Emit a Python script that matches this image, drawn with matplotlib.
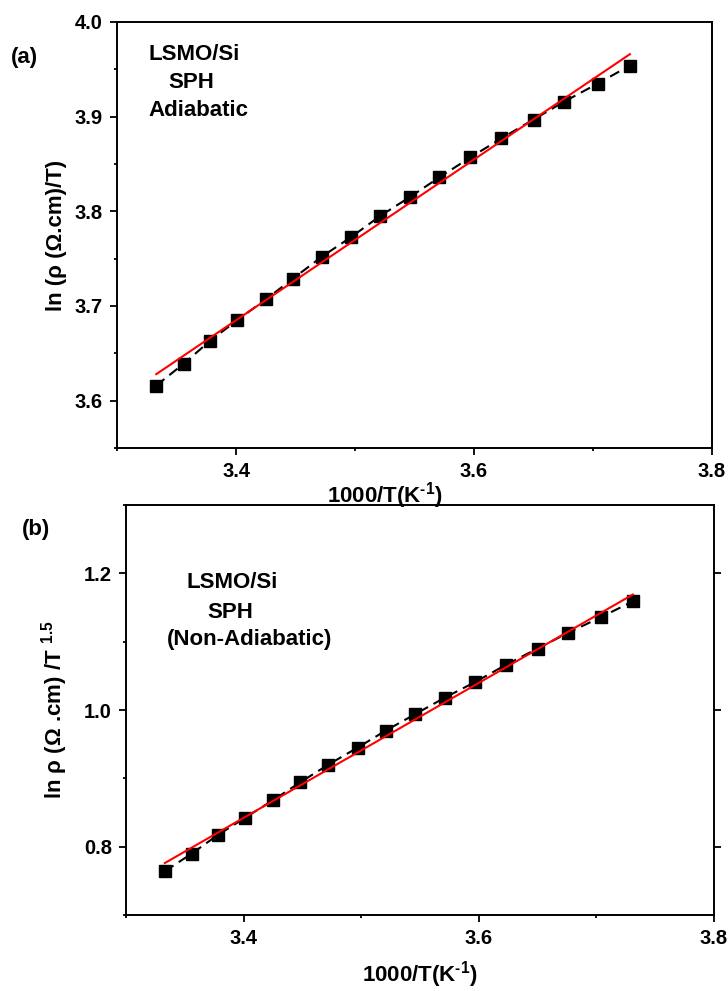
import matplotlib
matplotlib.use("Agg")
import matplotlib.pyplot as plt
from matplotlib.ticker import MultipleLocator

plt.rcParams['font.family'] = ['Liberation Sans', 'DejaVu Sans']
plt.rcParams['font.weight'] = 'bold'
plt.rcParams['mathtext.fontset'] = 'custom'
plt.rcParams['mathtext.rm'] = 'Liberation Sans:bold'
plt.rcParams['mathtext.bf'] = 'Liberation Sans:bold'
plt.rcParams['mathtext.default'] = 'bf'

# 1000/T (K^-1), T = 300 K down to 268 K
inv_t = [3.333, 3.356, 3.378, 3.401, 3.425, 3.448, 3.472, 3.497, 3.521,
         3.546, 3.571, 3.597, 3.623, 3.650, 3.676, 3.704, 3.731]

# adiabatic SPH: ln(rho/T)
ln_rho_t = [3.616, 3.639, 3.663, 3.685, 3.707, 3.729, 3.752, 3.773, 3.795,
            3.815, 3.836, 3.857, 3.877, 3.897, 3.916, 3.935, 3.954]
fit_a_x = [3.333, 3.731]
fit_a_y = [3.628, 3.966]

# non-adiabatic SPH: ln(rho/T^1.5)
ln_rho_t15 = [0.764, 0.790, 0.817, 0.842, 0.868, 0.894, 0.920, 0.945, 0.970,
              0.994, 1.018, 1.041, 1.066, 1.090, 1.113, 1.136, 1.159]
fit_b_x = [3.333, 3.731]
fit_b_y = [0.776, 1.169]

W, H = 728, 991
fig = plt.figure(figsize=(W / 100, H / 100), dpi=100)


def px_box(left, top, right, bottom):
    return [left / W, 1 - bottom / H, (right - left) / W, (bottom - top) / H]


def style_axes(ax, right_ticks=False):
    for sp in ax.spines.values():
        sp.set_linewidth(1.4)
    ax.tick_params(which='both', direction='out', width=1.3, labelsize=14.5,
                   top=False, right=False)
    ax.tick_params(which='major', length=5, pad=5)
    ax.tick_params(which='minor', length=2.5)
    if right_ticks:
        ax.tick_params(which='major', right=True)
    ax.xaxis.set_major_locator(MultipleLocator(0.2))
    ax.xaxis.set_minor_locator(MultipleLocator(0.1))
    for lab in ax.get_xticklabels() + ax.get_yticklabels():
        lab.set_fontweight('bold')


def draw(ax, y, fx, fy):
    ax.plot(inv_t, y, color='black', ls='--', dashes=(5, 3), lw=1.5,
            marker='s', ms=8.5, zorder=2)
    ax.plot(fx, fy, color='red', lw=1.5, zorder=3)


xlabel = r'1000/T(K$^{\text{-1}}$)'

# (a) adiabatic
ax1 = fig.add_axes(px_box(117, 22, 712, 448))
draw(ax1, ln_rho_t, fit_a_x, fit_a_y)
ax1.set_xlim(3.3, 3.8)
ax1.set_ylim(3.55, 4.0)
ax1.yaxis.set_major_locator(MultipleLocator(0.1))
ax1.yaxis.set_minor_locator(MultipleLocator(0.05))
style_axes(ax1)
ax1.set_ylabel('ln (ρ (Ω.cm)/T)', fontsize=16, fontweight='bold', labelpad=6)
fig.text(148 / W, 1 - 54 / H, 'LSMO/Si', fontsize=16, fontweight='bold', va='center')
fig.text(168 / W, 1 - 83 / H, 'SPH', fontsize=16, fontweight='bold', va='center')
fig.text(148 / W, 1 - 110 / H, 'Adiabatic', fontsize=16, fontweight='bold', va='center')
fig.text(11 / W, 1 - 57 / H, '(a)', fontsize=16, fontweight='bold', va='center')

# (b) non-adiabatic
ax2 = fig.add_axes(px_box(126, 505, 714, 915))
draw(ax2, ln_rho_t15, fit_b_x, fit_b_y)
ax2.set_xlim(3.3, 3.8)
ax2.set_ylim(0.7, 1.3)
ax2.yaxis.set_major_locator(MultipleLocator(0.2))
ax2.yaxis.set_minor_locator(MultipleLocator(0.1))
style_axes(ax2, right_ticks=True)
ax2.set_ylabel(r'ln ρ (Ω .cm) /T $^{1.5}$', fontsize=16, fontweight='bold',
               labelpad=10)
fig.text(187 / W, 1 - 583 / H, 'LSMO/Si', fontsize=16, fontweight='bold', va='center')
fig.text(207 / W, 1 - 612 / H, 'SPH', fontsize=16, fontweight='bold', va='center')
fig.text(167 / W, 1 - 640 / H, '(Non-Adiabatic)', fontsize=16, fontweight='bold',
         va='center')
fig.text(22 / W, 1 - 530 / H, '(b)', fontsize=16, fontweight='bold', va='center')

# x-axis titles
fig.text(385 / W, 1 - 496 / H, xlabel, fontsize=16, fontweight='bold',
         ha='center', va='center')
fig.text(420 / W, 1 - 975 / H, xlabel, fontsize=16, fontweight='bold',
         ha='center', va='center')

fig.savefig('out.png', dpi=100)
